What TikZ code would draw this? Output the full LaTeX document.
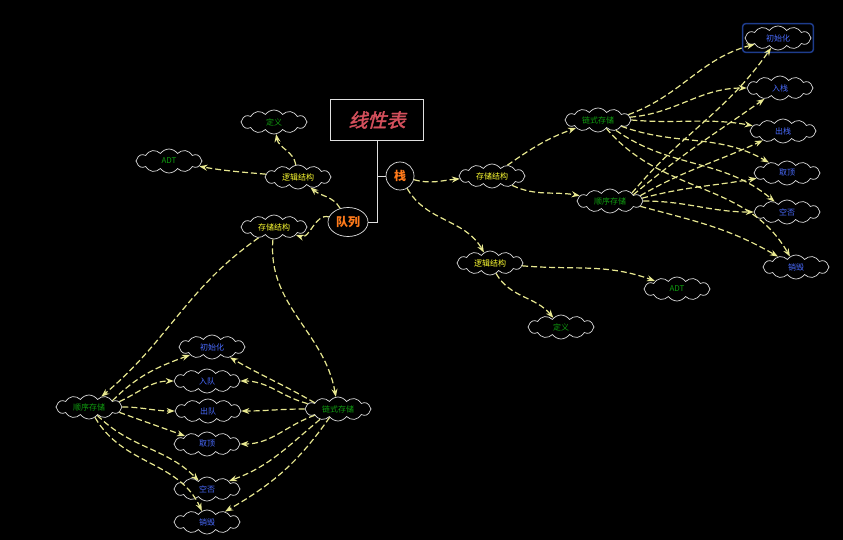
\documentclass[tikz,border=0pt]{standalone}
\usepackage{fontspec}
\setmainfont{Noto Sans CJK SC}
\newfontfamily\titlefont{Noto Sans CJK SC}[FakeSlant=0.25,FakeBold=2]
\usepackage{tikz}
\usetikzlibrary{arrows.meta,shapes.symbols,shapes.geometric,fit}
\definecolor{linkcol}{HTML}{E8E890}
\definecolor{rimcol}{HTML}{E0E0E0}
\definecolor{headcol}{HTML}{D4505C}
\definecolor{rootcol}{HTML}{FF7A1A}
\definecolor{kindcol}{HTML}{FFFF33}
\definecolor{leafcol}{HTML}{10A010}
\definecolor{opcol}{HTML}{4A6CFF}
\definecolor{pickcol}{HTML}{1E3C8C}
\begin{document}
\begin{tikzpicture}[x=1pt, y=-1pt,
  every node/.style={font=\fontsize{8}{9}\selectfont},
  puff/.style={cloud, cloud puffs=12, cloud puff arc=110, aspect=2.8, draw=rimcol,
    fill=black, line width=0.7pt, inner sep=0pt, minimum width=66pt, minimum height=24pt},
  kind/.style={puff, text=kindcol},
  leaf/.style={puff, text=leafcol},
  op/.style={puff, text=opcol},
  root/.style={ellipse, draw=rimcol, fill=black, line width=0.7pt, inner sep=1pt,
    text=rootcol, font=\fontsize{12}{13}\selectfont\bfseries},
  link/.style={draw=linkcol, line width=1.2pt, dash pattern=on 6pt off 3pt,
    -{Stealth[length=8pt,width=6pt,fill=linkcol]}}]
  \useasboundingbox[fill=black] (0,0) rectangle (843,540);

  % title and the two roots
  \node[draw=rimcol, line width=0.8pt, minimum width=93pt, minimum height=41pt,
    text=headcol, font=\fontsize{19}{20}\titlefont] (title) at (377,120) {线性表};
  \node[root, minimum width=28pt, minimum height=28pt] (stack) at (400,176) {栈};
  \node[root, minimum width=40pt, minimum height=29pt] (queue) at (348,222) {队列};
  \draw[rimcol, line width=0.8pt] (title.south) |- (stack.west);
  \draw[rimcol, line width=0.8pt] (title.south) |- (queue.east);

  % stack side
  \node[kind] (storeR) at (492,176) {存储结构};
  \node[kind] (logicR) at (490,263) {逻辑结构};
  \node[leaf] (linkR) at (598,120) {链式存储};
  \node[leaf] (seqR) at (610,201) {顺序存储};
  \node[leaf] (adtR) at (677,289) {ADT};
  \node[leaf] (defR) at (561,327) {定义};
  \node[op] (initR) at (778,38) {初始化};
  \node[op] (pushR) at (780,88) {入栈};
  \node[op] (popR) at (783,131) {出栈};
  \node[op] (topR) at (787,173) {取顶};
  \node[op] (emptyR) at (787,212) {空否};
  \node[op] (destR) at (796,267) {销毁};
  \node[draw=pickcol, line width=1.5pt, rounded corners=3pt, inner sep=2pt,
    fit=(initR)] (pick) {};

  % queue side
  \node[kind] (logicL) at (298,177) {逻辑结构};
  \node[kind] (storeL) at (274,227) {存储结构};
  \node[leaf] (defL) at (274,122) {定义};
  \node[leaf] (adtL) at (169,161) {ADT};
  \node[leaf] (seqL) at (89,407) {顺序存储};
  \node[leaf] (linkL) at (338,409) {链式存储};
  \node[op] (initL) at (212,347) {初始化};
  \node[op] (enqL) at (207,381) {入队};
  \node[op] (deqL) at (208,411) {出队};
  \node[op] (topL) at (207,444) {取顶};
  \node[op] (emptyL) at (207,489) {空否};
  \node[op] (destL) at (207,522) {销毁};

  % connectors: from/start anchor/to/out/in
  \foreach \a/\s/\b/\o/\i in {stack/-15/storeR/-15/185, stack/-60/logicR/-60/120,
      storeR/35/linkR/35/200, storeR/-25/seqR/-25/170,
      logicR/-5/adtR/-5/160, logicR/-60/defR/-60/130,
      linkR/10/initR/20/195, linkR/5/pushR/5/180, linkR/0/popR/-5/170,
      linkR/-15/topR/-20/150, linkR/-30/emptyR/-35/140, linkR/-45/destR/-50/120,
      seqR/20/initR/50/235, seqR/15/pushR/40/215, seqR/10/popR/30/205,
      seqR/5/topR/15/190, seqR/0/emptyR/0/180, seqR/-10/destR/-15/150,
      queue/120/logicL/120/-40, queue/165/storeL/165/-20,
      logicL/100/defL/100/-80, logicL/175/adtL/175/-10,
      storeL/215/seqL/215/40, storeL/-95/linkL/-95/100,
      seqL/15/initL/45/200, seqL/10/enqL/25/180, seqL/0/deqL/0/180,
      seqL/-10/topL/-20/160, seqL/-45/emptyL/-45/135, seqL/-60/destL/-60/115,
      linkL/165/initL/150/-30, linkL/170/enqL/165/0, linkL/180/deqL/180/0,
      linkL/195/topL/200/0, linkL/210/emptyL/220/20, linkL/225/destL/235/30}
    \draw[link] (\a.\s) to[out=\o, in=\i] (\b);
\end{tikzpicture}
\end{document}
